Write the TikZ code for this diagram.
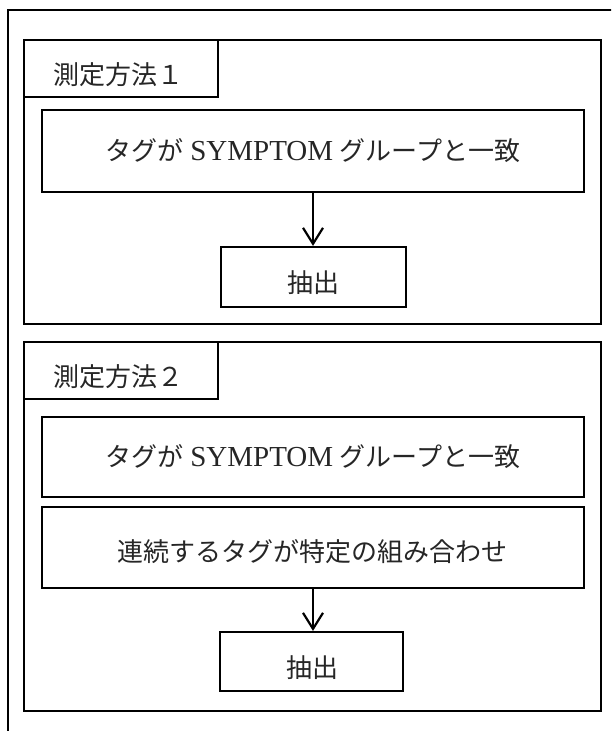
\documentclass[tikz,border=0pt]{standalone}
\usepackage{fontspec}
\setmainfont{Liberation Serif}
\newfontfamily\jpfont{Noto Sans CJK JP}
\newcommand\latword[1]{{\rmfamily\fontsize{29}{30}\selectfont #1}}
\usetikzlibrary{arrows.meta}
\begin{document}
\begin{tikzpicture}[x=1pt,y=-1pt,
  boxline/.style={draw=black, line width=2.2pt},
  framebox/.style={boxline, rectangle, inner sep=0pt},
  txt/.style={font=\jpfont\fontsize{26}{30}\selectfont, text=black!85, inner sep=0pt},
  arr/.style={boxline, -{Straight Barb[length=16pt,width=20pt]}}]
\useasboundingbox (0,0) rectangle (611,731);
\begin{scope}
  \clip (0,0) rectangle (611,731);
  \draw[boxline] (8,10) rectangle (660,790);
\end{scope}

% Method 1
\node[framebox, minimum width=577pt, minimum height=284pt] (m1) at (312.5,182) {};
\node[framebox, minimum width=194pt, minimum height=57pt] (l1) at (121,68.5) {};
\node[txt] (l1t) at (118.5,75) {測定方法１};
\node[framebox, minimum width=542pt, minimum height=82pt, txt, inner sep=0pt] (a1) at (313,151)
  {タグが\hspace{0.25em}\latword{SYMPTOM}\hspace{0.25em}グループと一致};
\node[framebox, minimum width=185pt, minimum height=60pt] (e1) at (313.5,277) {};
\node[txt] (e1t) at (313,283) {抽出};
\draw[arr] (a1.south) -- (a1.south |- e1.north);

% Method 2
\node[framebox, minimum width=577pt, minimum height=369pt] (m2) at (312.5,526.5) {};
\node[framebox, minimum width=194pt, minimum height=57pt] (l2) at (121,370.5) {};
\node[txt] (l2t) at (118.5,377) {測定方法２};
\node[framebox, minimum width=542pt, minimum height=80pt, txt, inner sep=0pt] (a2) at (313,457)
  {タグが\hspace{0.25em}\latword{SYMPTOM}\hspace{0.25em}グループと一致};
\node[framebox, minimum width=542pt, minimum height=81pt] (b2) at (313,547.5) {};
\node[txt] (b2t) at (312,552) {連続するタグが特定の組み合わせ};
\node[framebox, minimum width=183pt, minimum height=59pt] (e2) at (311.5,661.5) {};
\node[txt] (e2t) at (312,668) {抽出};
\draw[arr] (b2.south) -- (b2.south |- e2.north);
\end{tikzpicture}
\end{document}
